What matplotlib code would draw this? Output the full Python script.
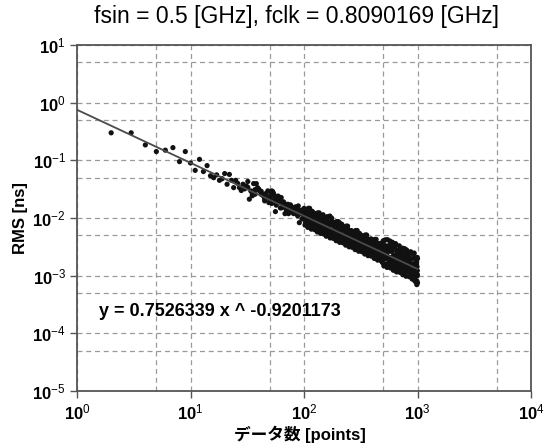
import numpy as np
import matplotlib
matplotlib.use("Agg")
import matplotlib.pyplot as plt
from matplotlib.ticker import LogLocator, FuncFormatter, NullFormatter

# ---------------------------------------------------------------------------
# data (RMS vs number of data points)
# ---------------------------------------------------------------------------
fit_a = 0.7526339
fit_b = -0.9201173
fit_x = [1, 1000]

# sparse part, one point per count
x_low = [2, 3, 4, 5, 6, 7, 8, 9, 10, 11, 12, 13, 14, 15, 16, 17, 18, 19, 20,
         21, 22, 23, 24, 25, 26, 27, 28, 29, 30]
y_low = [0.30, 0.30, 0.185, 0.142, 0.150, 0.166, 0.095, 0.142, 0.090, 0.067,
         0.104, 0.064, 0.081, 0.054, 0.050, 0.056, 0.045, 0.048, 0.059,
         0.0385, 0.057, 0.045, 0.0336, 0.045, 0.040, 0.0336, 0.030, 0.0385,
         0.032]

x_mid = [31, 32, 33, 34, 35, 36, 37, 38, 39, 40, 41, 42, 43, 44, 45, 46, 47,
         48, 49, 50, 51, 52, 53, 54, 55, 56, 57, 58, 59, 60, 61, 62, 63, 64,
         65, 66, 67, 68, 69, 70, 72, 74, 75, 76, 78, 79, 80, 82, 83, 84, 86,
         88, 89, 90, 91, 92, 94, 95, 97, 98,
         32, 35, 38, 42, 45, 48, 52, 55, 58, 62, 66, 71, 73, 77, 81, 85, 87,
         93, 96, 99, 37, 44, 50, 57, 64, 69, 76, 83, 90, 95]
y_mid = [0.036, 0.043, 0.0212, 0.0295, 0.0265, 0.0395, 0.031, 0.0395, 0.0336,
         0.0316, 0.029, 0.0258, 0.0251, 0.0240, 0.0198, 0.0265, 0.0226, 0.0295,
         0.0185, 0.021, 0.0275, 0.0295, 0.0287, 0.0265, 0.0212, 0.0129, 0.0173,
         0.0198, 0.024, 0.0232, 0.0192, 0.0212, 0.0226, 0.0151, 0.0185, 0.0173,
         0.0162, 0.0119, 0.0173, 0.0133, 0.0173, 0.0160, 0.0151, 0.0169,
         0.0142, 0.0151, 0.0142, 0.0129, 0.0133, 0.0156, 0.0118, 0.0109,
         0.0162, 0.0116, 0.0083, 0.0136, 0.0125, 0.0136, 0.0115, 0.0123,
         0.0340, 0.0243, 0.0305, 0.0290, 0.0216, 0.0225, 0.0179, 0.0235,
         0.0188, 0.0149, 0.0191, 0.0156, 0.0119, 0.0149, 0.0119, 0.0145,
         0.0118, 0.0128, 0.0096, 0.0138, 0.0258, 0.0255, 0.0237, 0.0167,
         0.0180, 0.0150, 0.0126, 0.0135, 0.0119, 0.0128]

# dense part (100 .. 1000 points)
x_high = [
    100, 101, 102, 103, 104, 105, 106, 107, 108, 109,
    110, 111, 112, 113, 114, 116, 117, 118, 119, 120,
    122, 123, 124, 125, 126, 128, 129, 130, 131, 132,
    134, 135, 136, 137, 138, 140, 141, 142, 143, 144,
    147, 148, 149, 150, 151, 154, 155, 156, 157, 158,
    162, 163, 164, 165, 166, 170, 171, 173, 174, 176,
    178, 179, 181, 182, 184, 187, 188, 190, 192, 194,
    196, 198, 200, 202, 204, 206, 208, 210, 212, 214,
    216, 218, 220, 222, 224, 227, 229, 231, 233, 235,
    238, 240, 242, 244, 246, 250, 252, 254, 256, 258,
    262, 264, 266, 268, 270, 275, 277, 280, 282, 285,
    289, 291, 294, 296, 299, 303, 306, 309, 312, 315,
    318, 321, 324, 327, 330, 334, 337, 340, 343, 346,
    350, 353, 356, 359, 362, 367, 370, 374, 377, 381,
    385, 389, 392, 396, 400, 404, 408, 412, 416, 420,
    424, 428, 432, 436, 440, 445, 449, 454, 458, 462,
    467, 471, 476, 480, 485, 490, 495, 500, 505, 510,
    514, 519, 524, 529, 534, 539, 544, 550, 555, 560,
    566, 572, 577, 583, 588, 594, 600, 606, 612, 618,
    623, 629, 636, 642, 648, 654, 660, 667, 673, 680,
    686, 693, 700, 707, 714, 720, 727, 734, 741, 748,
    755, 762, 770, 777, 785, 792, 800, 808, 816, 824,
    831, 839, 847, 856, 864, 872, 880, 889, 898, 907,
    915, 924, 933, 942, 951, 960, 968, 976, 984, 992,
    1000, 996, 988, 980, 972]
y_high = [
    0.01468, 0.01039, 0.00753, 0.01249, 0.00885, 0.00789, 0.01279, 0.01064, 0.00687, 0.01470,
    0.01092, 0.00848, 0.01474, 0.00721, 0.00973, 0.00641, 0.01222, 0.00845, 0.01115, 0.00736,
    0.01222, 0.00865, 0.00627, 0.01040, 0.00736, 0.00658, 0.01066, 0.00887, 0.00573, 0.01225,
    0.00911, 0.00707, 0.01229, 0.00602, 0.00812, 0.00540, 0.01028, 0.00711, 0.00938, 0.00619,
    0.01029, 0.00729, 0.00528, 0.00876, 0.00620, 0.00555, 0.00899, 0.00748, 0.00483, 0.01033,
    0.00765, 0.00594, 0.01032, 0.00505, 0.00682, 0.00451, 0.00860, 0.00595, 0.00784, 0.00518,
    0.00863, 0.00611, 0.00443, 0.00734, 0.00520, 0.00464, 0.00752, 0.00625, 0.00404, 0.00864,
    0.00642, 0.00498, 0.00866, 0.00424, 0.00572, 0.00378, 0.00720, 0.00498, 0.00657, 0.00434,
    0.00722, 0.00511, 0.00371, 0.00615, 0.00435, 0.00388, 0.00629, 0.00523, 0.00338, 0.00723,
    0.00537, 0.00417, 0.00724, 0.00355, 0.00479, 0.00316, 0.00603, 0.00417, 0.00550, 0.00363,
    0.00605, 0.00428, 0.00310, 0.00515, 0.00365, 0.00325, 0.00527, 0.00439, 0.00283, 0.00606,
    0.00449, 0.00349, 0.00606, 0.00297, 0.00400, 0.00265, 0.00505, 0.00350, 0.00461, 0.00304,
    0.00506, 0.00358, 0.00260, 0.00431, 0.00305, 0.00272, 0.00441, 0.00367, 0.00237, 0.00507,
    0.00376, 0.00292, 0.00508, 0.00249, 0.00336, 0.00222, 0.00424, 0.00293, 0.00386, 0.00255,
    0.00425, 0.00301, 0.00218, 0.00361, 0.00256, 0.00229, 0.00370, 0.00308, 0.00199, 0.00425,
    0.00316, 0.00245, 0.00426, 0.00208, 0.00281, 0.00186, 0.00355, 0.00245, 0.00324, 0.00214,
    0.00355, 0.00252, 0.00182, 0.00302, 0.00214, 0.00174, 0.00332, 0.00258, 0.00148, 0.00409,
    0.00271, 0.00196, 0.00419, 0.00159, 0.00236, 0.00139, 0.00326, 0.00201, 0.00291, 0.00167,
    0.00334, 0.00206, 0.00136, 0.00265, 0.00168, 0.00146, 0.00278, 0.00216, 0.00124, 0.00343,
    0.00227, 0.00164, 0.00351, 0.00134, 0.00197, 0.00116, 0.00273, 0.00168, 0.00243, 0.00140,
    0.00280, 0.00173, 0.00114, 0.00222, 0.00140, 0.00122, 0.00233, 0.00181, 0.00104, 0.00287,
    0.00190, 0.00138, 0.00294, 0.00112, 0.00165, 0.000977, 0.00229, 0.00141, 0.00204, 0.00117,
    0.00235, 0.00145, 0.000957, 0.00186, 0.00118, 0.00103, 0.00195, 0.00152, 0.000873, 0.00241,
    0.00159, 0.00115, 0.00247, 0.000938, 0.00139, 0.000819, 0.00192, 0.00118, 0.00171, 0.000983,
    0.00198, 0.00122, 0.000807, 0.00157, 0.000993]

# points filling the middle of the dense band
x_core = [
    101, 103, 102, 106, 108, 107, 111, 113, 112, 117, 119, 118, 123, 125, 124,
    129, 131, 130, 135, 137, 136, 141, 143, 142, 148, 150, 149, 155, 157, 156,
    163, 165, 164, 171, 175, 173, 179, 183, 181, 189, 193, 191, 197, 201, 199,
    207, 211, 209, 217, 221, 219, 228, 232, 230, 239, 243, 241, 251, 255, 253,
    263, 267, 265, 276, 281, 278, 290, 295, 292, 305, 311, 308, 320, 326, 323,
    336, 342, 339, 352, 358, 355, 369, 376, 372, 387, 394, 390, 406, 414, 410,
    426, 434, 430, 447, 456, 451, 469, 478, 473, 492, 502, 497, 516, 526, 521,
    541, 552, 547, 569, 580, 575, 597, 609, 603, 626, 639, 632, 657, 670, 664,
    690, 704, 697, 724, 738, 731, 759, 774, 766, 796, 812, 804, 835, 852, 843,
    876, 894, 885, 920, 938, 929, 964, 980, 972, 998, 990, 994]
y_core = [
    0.01139, 0.00826, 0.01338, 0.00927, 0.01371, 0.00753, 0.01198, 0.00930, 0.00773,
    0.00789, 0.01017, 0.01309, 0.01167, 0.00789, 0.00906, 0.00908, 0.00658, 0.01066,
    0.00740, 0.01095, 0.00602, 0.00959, 0.00745, 0.00619, 0.00635, 0.00818, 0.01053,
    0.00942, 0.00637, 0.00731, 0.00731, 0.00530, 0.00858, 0.00595, 0.00880, 0.00483,
    0.00769, 0.00597, 0.00496, 0.00509, 0.00655, 0.00844, 0.00754, 0.00510, 0.00586,
    0.00586, 0.00425, 0.00688, 0.00477, 0.00706, 0.00388, 0.00615, 0.00477, 0.00397,
    0.00408, 0.00525, 0.00676, 0.00603, 0.00408, 0.00468, 0.00469, 0.00340, 0.00552,
    0.00382, 0.00565, 0.00310, 0.00492, 0.00382, 0.00318, 0.00326, 0.00421, 0.00541,
    0.00483, 0.00327, 0.00375, 0.00375, 0.00272, 0.00441, 0.00306, 0.00453, 0.00249,
    0.00395, 0.00307, 0.00255, 0.00262, 0.00337, 0.00434, 0.00388, 0.00262, 0.00301,
    0.00301, 0.00219, 0.00354, 0.00245, 0.00363, 0.00199, 0.00317, 0.00246, 0.00204,
    0.00200, 0.00276, 0.00399, 0.00333, 0.00201, 0.00241, 0.00248, 0.00163, 0.00304,
    0.00192, 0.00319, 0.00146, 0.00266, 0.00197, 0.00157, 0.00160, 0.00222, 0.00320,
    0.00267, 0.00161, 0.00193, 0.00198, 0.00131, 0.00244, 0.00154, 0.00256, 0.00117,
    0.00213, 0.00158, 0.00125, 0.00129, 0.00178, 0.00257, 0.00214, 0.00129, 0.00155,
    0.00159, 0.00105, 0.00195, 0.00124, 0.00205, 0.000938, 0.00171, 0.00127, 0.00101,
    0.00104, 0.00143, 0.00207]

# points on the edges of the band
x_edge = [147, 160, 169, 175, 205, 215, 491, 545, 570, 600, 640, 690, 740,
          800, 870, 930, 950, 985, 1000]
y_edge = [0.0114, 0.0105, 0.0108, 0.0100, 0.0083, 0.0078, 0.00169, 0.0042,
          0.0040, 0.0038, 0.0036, 0.0033, 0.0030, 0.0028, 0.0026, 0.0024,
          0.00080, 0.00070, 0.00075]

title = "fsin = 0.5 [GHz], fclk = 0.8090169 [GHz]"
fit_text = "y = 0.7526339 x ^ -0.9201173"

# ---------------------------------------------------------------------------
plt.rcParams["font.family"] = ["Liberation Sans", "Noto Sans CJK JP"]
plt.rcParams["mathtext.fontset"] = "custom"
plt.rcParams["mathtext.rm"] = "Liberation Sans"
plt.rcParams["mathtext.bf"] = "Liberation Sans:bold"
plt.rcParams["mathtext.it"] = "Liberation Sans:italic"

fig = plt.figure(figsize=(5.51, 4.48), dpi=100)
ax = fig.add_axes([77 / 551, 1 - 391 / 448, (531 - 77) / 551, (391 - 45) / 448])

xs = x_low + x_mid + x_high + x_core + x_edge
ys = y_low + y_mid + y_high + y_core + y_edge
ax.scatter(xs, ys, s=14, color="#111111", edgecolors="none", zorder=2)

fx = np.logspace(np.log10(fit_x[0]), np.log10(fit_x[1]), 50)
ax.plot(fx, fit_a * fx ** fit_b, color="#4a4a4a", lw=1.3, zorder=3)

ax.set_xscale("log")
ax.set_yscale("log")
ax.set_xlim(1, 1e4)
ax.set_ylim(1e-5, 1e1)

for axis in (ax.xaxis, ax.yaxis):
    axis.set_major_locator(LogLocator(base=10, numticks=10))
    axis.set_minor_locator(LogLocator(base=10, subs=[5.0], numticks=10))
    axis.set_minor_formatter(NullFormatter())
    axis.set_major_formatter(FuncFormatter(
        lambda v, p: r"$\mathbf{10}^{%d}$" % int(round(np.log10(v)))))

ax.tick_params(which="major", direction="out", length=5, width=1,
               color="#555555", labelsize=12, pad=3)
ax.tick_params(which="minor", length=0)
ax.grid(True, which="both", linestyle=(0, (4, 3)), color="#9a9a9a", lw=0.9)
for sp in ax.spines.values():
    sp.set_color("#555555")
    sp.set_linewidth(1.3)

fig.text(300 / 551, 1 - 434 / 448, "データ数 [points]", fontsize=12,
         fontweight="bold", ha="center", va="center")
fig.text(21 / 551, 1 - 218 / 448, "RMS [ns]", fontsize=12, fontweight="bold",
         rotation=90, ha="center", va="center")
fig.text(297 / 551, 1 - 16 / 448, title, fontsize=16.5, ha="center", va="center")
ax.text(99 / 551, 1 - 311 / 448, fit_text, transform=fig.transFigure,
        fontsize=13, fontweight="bold", va="center", ha="left")

fig.savefig("out.png", dpi=100)
